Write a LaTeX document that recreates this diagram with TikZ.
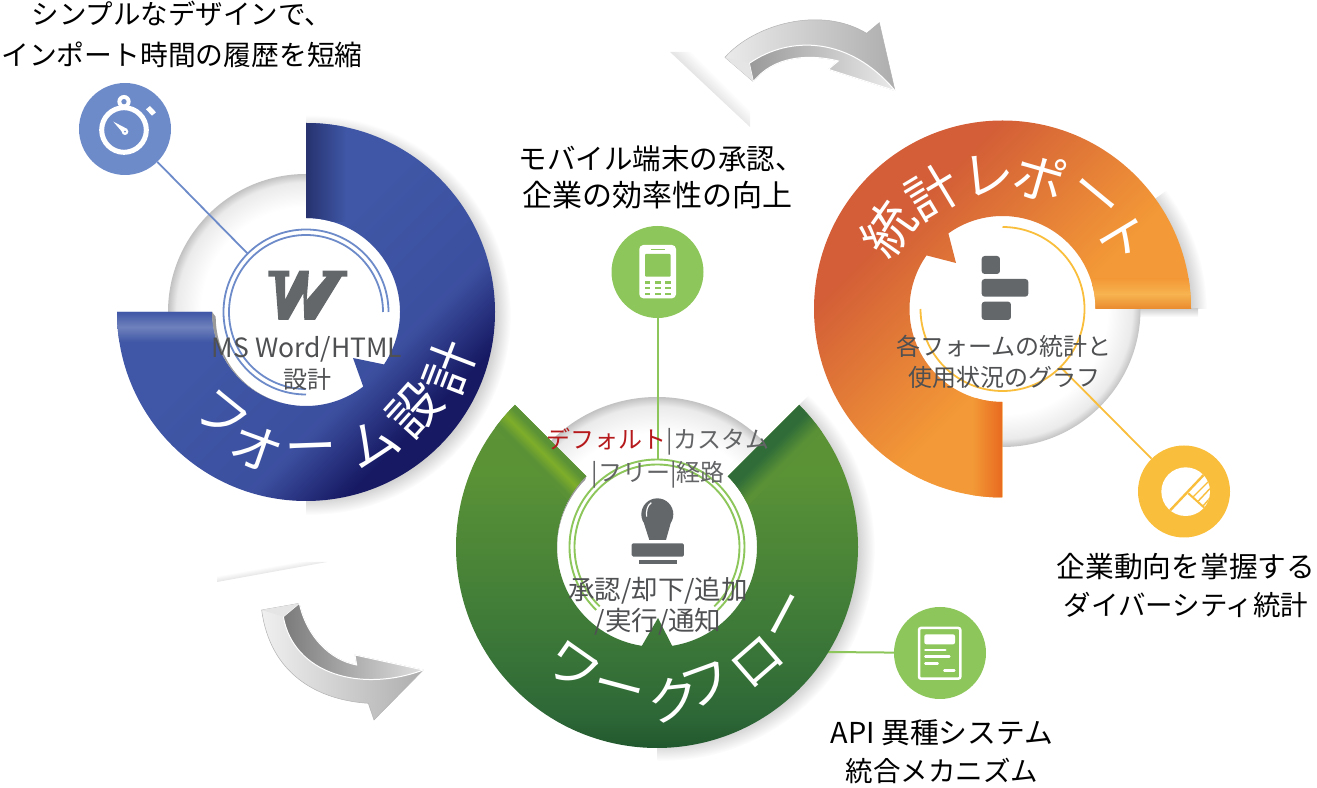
\documentclass[tikz,border=0pt]{standalone}
\usepackage{fontspec}
\setmainfont{Noto Sans CJK JP}
\definecolor{inktext}{HTML}{4F5052}
\definecolor{iconink}{HTML}{63676A}
\definecolor{formblue}{HTML}{3F57A6}
\definecolor{formdark}{HTML}{27326F}
\definecolor{formline}{HTML}{6E8BC9}
\definecolor{flowgreen}{HTML}{8DC65A}
\definecolor{reportline}{HTML}{F9BE3C}
\definecolor{reportbase}{HTML}{F39937}
\definecolor{reportlow}{HTML}{E98A2E}
\definecolor{reportlight}{HTML}{F7B450}
\definecolor{reportend}{HTML}{E86A1F}
\definecolor{flowred}{HTML}{B5191B}
\definecolor{flowgray}{HTML}{636466}
\pgfdeclareverticalshading{formring}{100bp}{rgb(0bp)=(.08,.09,.38);rgb(29bp)=(.09,.10,.39);rgb(38bp)=(.235,.31,.625);rgb(55bp)=(.247,.341,.651);rgb(100bp)=(.247,.341,.651)}
\pgfdeclareverticalshading{reportring}{100bp}{rgb(0bp)=(.953,.6,.216);rgb(44.5bp)=(.953,.6,.216);rgb(68bp)=(.827,.369,.216);rgb(100bp)=(.827,.369,.216)}
\pgfdeclareverticalshading{flowring}{100bp}{rgb(0bp)=(.08,.224,.114);rgb(25bp)=(.08,.224,.114);rgb(27bp)=(.125,.333,.169);rgb(32bp)=(.176,.404,.216);rgb(46.5bp)=(.255,.49,.22);rgb(65.5bp)=(.353,.573,.212);rgb(75bp)=(.369,.576,.212);rgb(100bp)=(.369,.576,.212)}
\pgfdeclareverticalshading{flowleftband}{100bp}{rgb(0bp)=(.353,.569,.212);rgb(44.6bp)=(.361,.573,.212);rgb(49.6bp)=(.498,.682,.165);rgb(55.4bp)=(.353,.569,.212);rgb(100bp)=(.353,.569,.212)}
\pgfdeclareverticalshading{flowrightband}{100bp}{rgb(0bp)=(.176,.416,.22);rgb(46.8bp)=(.184,.424,.22);rgb(56bp)=(.353,.569,.212);rgb(100bp)=(.353,.569,.212)}
\pgfdeclareradialshading{discrim}{\pgfpoint{0bp}{0bp}}{rgb(0bp)=(1,1,1);rgb(19bp)=(1,1,1);rgb(23.5bp)=(.92,.92,.92);rgb(25bp)=(.76,.76,.76);rgb(50bp)=(.76,.76,.76)}
\pgfdeclareradialshading{ringhalo}{\pgfpoint{0bp}{0bp}}{rgb(0bp)=(.78,.78,.78);rgb(22.5bp)=(.78,.78,.78);rgb(25bp)=(1,1,1);rgb(50bp)=(1,1,1)}
\pgfdeclareverticalshading{streak}{100bp}{rgb(0bp)=(1,1,1);rgb(50bp)=(.9,.9,.9);rgb(59bp)=(1,1,1);rgb(100bp)=(1,1,1)}
\newcommand{\formpath}{(90:189) arc[start angle=90,end angle=-180,radius=189] -- (180:94) arc[start angle=180,end angle=307.5,radius=94] -- (47,-46) -- (-33.9:94) arc[start angle=-33.9,end angle=90,radius=94] -- cycle}
\newcommand{\flowpath}{(135:201) arc[start angle=135,end angle=405,radius=201] -- (45:100) arc[start angle=45,end angle=-81.3,radius=100] -- (1,-71) -- (261.3:100) arc[start angle=261.3,end angle=135,radius=100] -- cycle}
\newcommand{\reportpath}{(0:188.5) arc[start angle=0,end angle=270,radius=188.5] -- (270:93) arc[start angle=270,end angle=144.8,radius=93] -- (-46.5,46) -- (125.6:93) arc[start angle=125.6,end angle=0,radius=93] -- cycle}
\begin{document}
\begin{tikzpicture}[
    x=1pt,
    y=1pt,
    caption/.style={
      font=\fontsize{27.5}{38}\selectfont,
      align=center,
      inner sep=0pt},
    centertext/.style={
      font=\fontsize{24}{31}\selectfont,
      align=center,
      inner sep=0pt,
      text=inktext},
    ringglyph/.style={
      font=\fontsize{52}{52}\selectfont,
      text=white,
      inner sep=0pt},
    iconcircle/.style={
      circle,
      inner sep=0pt,
      minimum size=92pt},
    cropscale/.style={
      x=.3333pt,
      y=-.3333pt},
    crescent/.style={
      fill=black!40},
    arrowedge/.style={
      draw=black!30,
      line width=.5pt},
  ]
  \useasboundingbox (0,0) rectangle (1317,787);
  % soft streaks
  \shade[shading=streak,shading angle=-45] (670,735) -- (750,660) -- (750,735) -- cycle;
  \shade[shading=streak,shading angle=10] (217,205) -- (327,225) -- (217,225) -- cycle;
  % halos behind the rings
  \begin{scope}
    \clip (306,475) -- (306,250) -- (531,250) -- (531,700) -- (306,700) -- cycle;
    \shade[shading=ringhalo] (311,472) circle[radius=200];
  \end{scope}
  \begin{scope}
    \clip (657,240) -- (657,15) -- (882,15) -- (882,465) -- cycle;
    \shade[shading=ringhalo] (663,238) circle[radius=212];
  \end{scope}
  \begin{scope}
    \clip (1002,478) -- (1227,478) -- (1227,640) -- cycle;
    \shade[shading=ringhalo] (1007,476) circle[radius=200];
  \end{scope}
  \shade[top color=black!18,bottom color=white] (1096,478) rectangle (1198,470);
  % discs
  \shade[shading=discrim] (306,475) circle[radius=138];
  \shade[shading=discrim] (657,240) circle[radius=150];
  \shade[shading=discrim] (1002.5,478) circle[radius=138];
  % icons
  \node[iconcircle,fill=formline] (watchicon) at (125,658) {};
  \node[iconcircle,fill=flowgreen] (phoneicon) at (657.5,515) {};
  \node[iconcircle,fill=flowgreen] (docicon) at (940,134) {};
  \node[iconcircle,fill=reportline] (pieicon) at (1184,295.5) {};
  \coordinate (watchend) at (248,533);
  \coordinate (phoneend) at (657.5,327);
  \coordinate (docend) at (828,135);
  \coordinate (pieend) at (1060.5,420);
  \draw[formline,line width=1.8pt] (watchicon) -- (watchend);
  \draw[flowgreen,line width=2pt] (phoneicon) -- (phoneend);
  \draw[flowgreen,line width=2pt] (docicon) -- (docend);
  \draw[reportline,line width=1.8pt] (pieicon) -- (pieend);
  % form ring
  \begin{scope}[shift={(306,475)}]
    \shade[shading=formring,shading angle=45] \formpath;
    \begin{scope}
      \clip \formpath;
      \shade[left color=formdark,right color=formblue] (0,90) rectangle (40,192);
      \shade[top color=formblue,bottom color=formblue,middle color=formblue!75!white] (-192,0) rectangle (-90,-30);
    \end{scope}
    \fill[crescent] (255:94) arc[start angle=255,end angle=180,radius=89] -- (180:94) arc[start angle=180,end angle=255,radius=94] -- cycle;
    \draw[formline,line width=1.8pt] (0:77) arc[start angle=0,end angle=270,radius=77];
    \draw[formline,line width=1.8pt] (0:82.5) arc[start angle=0,end angle=270,radius=82.5];
    \node[ringglyph,rotate=-39] (formfu) at (231:134) {フ};
    \node[ringglyph,rotate=-20] (formo) at (250:145) {オ};
    \node[ringglyph,rotate=2] (formbar) at (272:142) {ー};
    \node[ringglyph,rotate=27] (formmu) at (297:147) {ム};
    \node[ringglyph,rotate=48] (formset) at (318:146) {設};
    \node[ringglyph,rotate=69] (formkei) at (339:154) {計};
  \end{scope}
  % flow ring
  \begin{scope}[shift={(657,240)}]
    \shade[shading=flowring] \flowpath;
    \begin{scope}
      \clip \flowpath;
      \shade[shading=flowleftband,shading angle=135] (135:95) -- (135:205) -- ++(225:30) -- ++(315:110) -- cycle;
      \shade[shading=flowrightband,shading angle=-135] (45:95) -- (45:205) -- ++(-45:35) -- ++(225:110) -- cycle;
    \end{scope}
    \fill[crescent] (190:100) arc[start angle=190,end angle=135,radius=96] -- (135:100) arc[start angle=135,end angle=190,radius=100] -- cycle;
    \draw[flowgreen,line width=1.9pt] (226:82.5) arc[start angle=226,end angle=-46,radius=82.5];
    \draw[flowgreen,line width=1.9pt] (226:87.5) arc[start angle=226,end angle=-46,radius=87.5];
    \node[ringglyph,rotate=-35] (flowwa) at (235:147) {ワ};
    \node[ringglyph,rotate=-15] (flowbar) at (255:153) {ー};
    \node[ringglyph,rotate=6] (flowku) at (276:154) {ク};
    \node[ringglyph,rotate=20] (flowfu) at (290:147) {フ};
    \node[ringglyph,rotate=41] (flowro) at (311:153) {ロ};
    \node[ringglyph,rotate=62] (flowend) at (332:152) {ー};
  \end{scope}
  % report ring
  \begin{scope}[shift={(1002.5,478)}]
    \shade[shading=reportring,shading angle=45] \reportpath;
    \begin{scope}
      \clip \reportpath;
      \shade[bottom color=reportlow,top color=reportbase,middle color=reportlight] (90,0) rectangle (192,30);
      \shade[left color=reportbase,right color=reportend] (-30,-192) rectangle (0,-90);
    \end{scope}
    \draw[reportline,line width=1.8pt] (90:82) arc[start angle=90,end angle=-180,radius=82];
    \node[ringglyph,rotate=55] (reporttou) at (145:140) {統};
    \node[ringglyph,rotate=31] (reportkei) at (121:136) {計};
    \node[ringglyph,rotate=6] (reportre) at (96:135) {レ};
    \node[ringglyph,rotate=-16] (reportpo) at (74:137) {ポ};
    \node[ringglyph,rotate=-39.5] (reportbar) at (50.5:141) {ー};
    \node[ringglyph,rotate=-59] (reportto) at (31:140) {ト};
  \end{scope}
  % W mark
  \begin{scope}[shift={(260,527)},cropscale]
    \fill[iconink] (25,32) -- (88,32) -- (88,50) -- (75,50) -- (75,120) -- (118,32) -- (147,32) -- (140,120) -- (200,50) -- (188,50) -- (188,32) -- (262,32) -- (262,50) -- (245,50) -- (165,180) -- (133,180) -- (130,100) -- (85,180) -- (55,180) -- (45,50) -- (25,50) -- cycle;
  \end{scope}
  % stamp
  \begin{scope}[shift={(440,407)},cropscale]
    \fill[iconink] (652,403) circle[radius=48];
    \fill[iconink] (612,430) -- (692,430) -- (678,480) -- (628,480) -- cycle;
    \draw[white,line width=1.2pt] (634,368) .. controls (622,376) and (618,392) .. (620,410);
    \fill[iconink,rounded corners=1.5pt] (575,490) rectangle (732,530);
    \fill[iconink] (597,540) rectangle (710,553);
  \end{scope}
  % bars
  \begin{scope}[shift={(800,657)},cropscale]
    \fill[iconink,rounded corners=3pt] (545,378) rectangle (600,432);
    \fill[iconink,rounded corners=3pt] (545,447) rectangle (685,500);
    \fill[iconink,rounded corners=3pt] (545,515) rectangle (633,570);
  \end{scope}
  % watch
  \begin{scope}[shift={(70,707)},cropscale]
    \draw[white,line width=5pt] (162,150) circle[radius=67];
    \fill[white] (162,65) circle[radius=20];
    \fill[formline] (162,65) circle[radius=8];
    \fill[white] (228,88) -- (240,78) -- (258,97) -- (246,107) -- cycle;
    \fill[white] (130,125) -- (172,147) -- (160,160) -- cycle;
    \fill[white] (165,155) circle[radius=10];
    \fill[formline] (165,155) circle[radius=3];
  \end{scope}
  % phone
  \begin{scope}[shift={(600,577)},cropscale]
    \fill[white,rounded corners=4pt] (118,105) rectangle (228,265);
    \draw[flowgreen,line width=.8pt] (152,118) -- (195,118);
    \fill[flowgreen,rounded corners=1pt] (135,132) rectangle (212,200);
    \fill[flowgreen] (135,212) rectangle (150,222);
    \fill[flowgreen] (165,212) rectangle (182,222);
    \fill[flowgreen] (195,212) rectangle (212,222);
    \fill[flowgreen] (135,230) rectangle (150,238);
    \fill[flowgreen] (165,230) rectangle (182,238);
    \fill[flowgreen] (195,230) rectangle (212,238);
    \fill[flowgreen] (135,248) rectangle (150,256);
    \fill[flowgreen] (165,248) rectangle (182,256);
    \fill[flowgreen] (195,248) rectangle (212,256);
  \end{scope}
  % document
  \begin{scope}[shift={(880,187)},cropscale]
    \draw[white,line width=2.5pt,rounded corners=2pt] (117,84) rectangle (241,236);
    \fill[white,rounded corners=2pt] (133,103) rectangle (225,133);
    \draw[white,line width=2.5pt,line cap=round] (136,150) -- (196,150);
    \draw[white,line width=2.5pt,line cap=round] (136,170) -- (208,170);
    \draw[white,line width=2.5pt,line cap=round] (136,190) -- (173,190);
    \draw[white,line width=2.5pt,line cap=round] (193,212) -- (223,212);
  \end{scope}
  % pie
  \begin{scope}[shift={(1130,347)},cropscale]
    \fill[white] (167,155) circle[radius=73];
    \begin{scope}
      \clip (167,155) circle[radius=73];
      \draw[reportline,line width=2.4pt] (110,222) -- (235,90);
      \draw[reportline,line width=2pt] (175,160) -- (235,214);
      \draw[reportline,line width=1.4pt] (190,170) -- (245,115);
      \draw[reportline,line width=1.4pt] (205,183) -- (250,135);
      \draw[reportline,line width=1.4pt] (220,197) -- (255,157);
    \end{scope}
  \end{scope}
  % grey arrows
  \begin{scope}[shift={(660,787)},cropscale]
    \shade[left color=black!8,right color=black!32,arrowedge] (195,172) .. controls (280,75) and (480,15) .. (620,100) -- (658,68) -- (705,272) -- (505,208) -- (535,183) .. controls (440,160) and (340,170) .. (280,245) -- cycle;
    \shade[left color=black!40,right color=black!8,draw=white,line width=1pt] (268,190) .. controls (390,105) and (570,110) .. (705,272) -- (505,208) -- (535,183) .. controls (440,160) and (340,170) .. (280,245) -- cycle;
    \fill[black!10] (195,172) -- (268,190) -- (280,245) -- cycle;
  \end{scope}
  \begin{scope}[shift={(200,237)},cropscale]
    \shade[left color=black!6,right color=black!32,arrowedge] (185,180) -- (298,160) .. controls (320,260) and (390,330) .. (470,345) -- (465,315) -- (670,360) -- (522,510) -- (505,460) .. controls (350,450) and (210,370) .. (185,180) -- cycle;
    \shade[left color=black!52,right color=black!12,draw=white,line width=1pt] (250,200) -- (298,160) .. controls (320,260) and (390,330) .. (470,345) -- (465,315) -- (670,360) .. controls (480,430) and (280,370) .. (250,200) -- cycle;
    \fill[black!10] (185,180) -- (298,160) -- (250,200) -- cycle;
  \end{scope}
  % captions
  \node[caption] (watchcaption) at (182,753) {シンプルなデザインで、\\[3pt]{\fontsize{27.8}{38}\selectfont インポート時間の履歴を短縮}};
  \node[caption] (phonecaption) at (657,610) {\hspace*{8pt}{\fontsize{28.5}{38}\selectfont モバイル端末の承認、}\\[-1pt]{\fontsize{30}{38}\selectfont 企業の効率性の向上}};
  \node[caption] (piecaption) at (1186,201) {{\fontsize{28.7}{38}\selectfont 企業動向を掌握する}\\ダイバーシティ統計};
  \node[caption] (doccaption) at (942,35) {{\fontsize{28.8}{38}\selectfont API 異種システム}\\統合メカニズム};
  % texts inside the rings
  \node[centertext] (formtext) at (307,424) {{\fontsize{26.5}{31}\selectfont MS Word/HTML}\\設計};
  \node[centertext,text=flowgray] (flowtop) at (658,329) {\textcolor{flowred}{デフォルト}|カスタム\\[2pt]|フリー|経路};
  \node[centertext,font=\fontsize{26.5}{31}\selectfont] (flowbottom) at (658,181) {承認/却下/追加\\/実行/通知};
  \node[centertext] (reporttext) at (1004,425) {各フォームの統計と\\使用状況のグラフ};
\end{tikzpicture}
\end{document}
